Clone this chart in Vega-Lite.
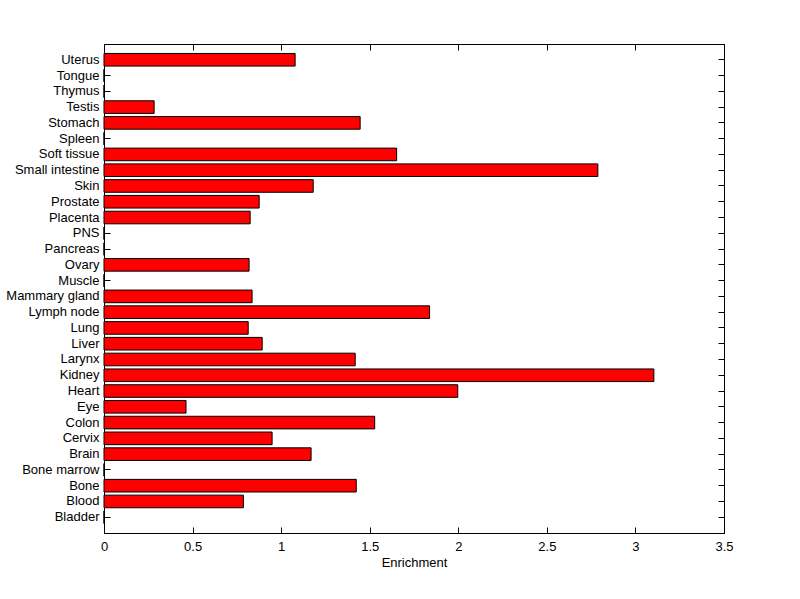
{
  "$schema": "https://vega.github.io/schema/vega-lite/v6.json",
  "width": 620,
  "height": 489,
  "autosize": "none",
  "padding": {"left": 104, "top": 44, "right": 76, "bottom": 66},
  "background": "white",
  "config": {
    "view": {"stroke": "black", "strokeWidth": 1},
    "font": "Liberation Sans",
    "axis": {
      "domainColor": "black",
      "tickColor": "black",
      "labelColor": "black",
      "titleColor": "black",
      "labelFont": "Liberation Sans",
      "titleFont": "Liberation Sans",
      "labelFontSize": 13,
      "titleFontSize": 13,
      "titleFontWeight": "normal",
      "grid": false,
      "tickSize": -6
    }
  },
  "data": {
    "values": [
      {"tissue": "Bladder", "value": 0},
      {"tissue": "Blood", "value": 0.787},
      {"tissue": "Bone", "value": 1.424},
      {"tissue": "Bone marrow", "value": 0},
      {"tissue": "Brain", "value": 1.169},
      {"tissue": "Cervix", "value": 0.949},
      {"tissue": "Colon", "value": 1.528},
      {"tissue": "Eye", "value": 0.463},
      {"tissue": "Heart", "value": 1.997},
      {"tissue": "Kidney", "value": 3.104},
      {"tissue": "Larynx", "value": 1.418},
      {"tissue": "Liver", "value": 0.893},
      {"tissue": "Lung", "value": 0.814},
      {"tissue": "Lymph node", "value": 1.838},
      {"tissue": "Mammary gland", "value": 0.836},
      {"tissue": "Muscle", "value": 0},
      {"tissue": "Ovary", "value": 0.819},
      {"tissue": "Pancreas", "value": 0},
      {"tissue": "PNS", "value": 0},
      {"tissue": "Placenta", "value": 0.825},
      {"tissue": "Prostate", "value": 0.876},
      {"tissue": "Skin", "value": 1.181},
      {"tissue": "Small intestine", "value": 2.788},
      {"tissue": "Soft tissue", "value": 1.652},
      {"tissue": "Spleen", "value": 0},
      {"tissue": "Stomach", "value": 1.446},
      {"tissue": "Testis", "value": 0.283},
      {"tissue": "Thymus", "value": 0},
      {"tissue": "Tongue", "value": 0},
      {"tissue": "Uterus", "value": 1.079}
    ]
  },
  "resolve": {"axis": {"x": "independent", "y": "independent"}},
  "layer": [
    {
      "mark": {"type": "bar", "fill": "#ff0000", "stroke": "black", "strokeWidth": 1},
      "encoding": {
        "y": {
          "field": "tissue",
          "type": "nominal",
          "sort": ["Uterus","Tongue","Thymus","Testis","Stomach","Spleen","Soft tissue","Small intestine","Skin","Prostate","Placenta","PNS","Pancreas","Ovary","Muscle","Mammary gland","Lymph node","Lung","Liver","Larynx","Kidney","Heart","Eye","Colon","Cervix","Brain","Bone marrow","Bone","Blood","Bladder"],
          "scale": {"paddingInner": 0.2, "paddingOuter": 0.6},
          "axis": {"orient": "left", "title": null, "labelPadding": 11, "domain": true}
        },
        "x": {
          "field": "value",
          "type": "quantitative",
          "scale": {"domain": [0, 3.5], "nice": false, "zero": true},
          "axis": {
            "orient": "bottom",
            "title": "Enrichment",
            "values": [0, 0.5, 1, 1.5, 2, 2.5, 3, 3.5],
            "labelExpr": "datum.value == 0 ? '0' : format(datum.value, '~g')",
            "labelPadding": 13,
            "titlePadding": 3,
            "labelFlush": false,
            "labelOverlap": false
          }
        }
      }
    },
    {
      "mark": {"type": "bar", "opacity": 0},
      "encoding": {
        "y": {
          "field": "tissue",
          "type": "nominal",
          "sort": ["Uterus","Tongue","Thymus","Testis","Stomach","Spleen","Soft tissue","Small intestine","Skin","Prostate","Placenta","PNS","Pancreas","Ovary","Muscle","Mammary gland","Lymph node","Lung","Liver","Larynx","Kidney","Heart","Eye","Colon","Cervix","Brain","Bone marrow","Bone","Blood","Bladder"],
          "axis": {"orient": "right", "title": null, "labels": false}
        },
        "x": {
          "field": "value",
          "type": "quantitative",
          "axis": {
            "orient": "top",
            "title": null,
            "labels": false,
            "values": [0, 0.5, 1, 1.5, 2, 2.5, 3, 3.5]
          }
        }
      }
    }
  ]
}
